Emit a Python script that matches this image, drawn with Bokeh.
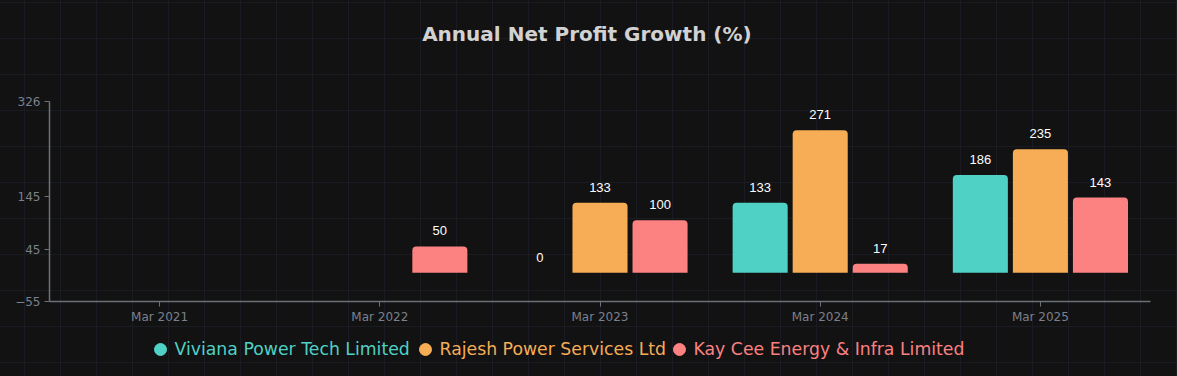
from bokeh.plotting import figure
from bokeh.layouts import column
from bokeh.models import (ColumnDataSource, FactorRange, Range1d, FixedTicker, LabelSet,
                          Label, Legend, LegendItem)
from bokeh.core.properties import value
from bokeh.transform import dodge
from bokeh.embed import file_html
from bokeh.resources import INLINE

periods = ["Mar 2021", "Mar 2022", "Mar 2023", "Mar 2024", "Mar 2025"]
viviana = [None, None, 0, 133, 186]
rajesh = [None, None, 133, 271, 235]
kaycee = [None, 50, 100, 17, 143]
series_names = ["Viviana Power Tech Limited", "Rajesh Power Services Ltd", "Kay Cee Energy & Infra Limited"]
series_values = [viviana, rajesh, kaycee]
colors = ["#4FD1C5", "#F6AD55", "#FC8181"]
y_ticks = [-55, 45, 145, 326]
title_text = "Annual Net Profit Growth (%)"

W = 1177
H_TOP, H_MAIN, H_LEG = 70, 260, 46


def blank_fig(h):
    f = figure(width=W, height=h, x_range=Range1d(0, W), y_range=Range1d(0, h),
               output_backend="svg", toolbar_location=None,
               x_axis_location=None, y_axis_location=None, min_border=0)
    f.background_fill_alpha = 0
    f.border_fill_alpha = 0
    f.outline_line_color = None
    f.xgrid.visible = False
    f.ygrid.visible = False
    return f


# title
pt = blank_fig(H_TOP)
pt.add_layout(Label(x=W / 2 - 14, y=H_TOP - 33, text=title_text, text_align="center",
                    text_baseline="middle", text_color="#D2D2D2", text_font="DejaVu Sans",
                    text_font_style="bold", text_font_size="20px"))

# main chart
p = figure(width=W, height=H_MAIN, x_range=FactorRange(factors=periods, range_padding=0),
           y_range=Range1d(-55, 326), output_backend="svg", toolbar_location=None,
           min_border_left=49, min_border_right=27, min_border_top=31, min_border_bottom=29)
p.x_range.factor_padding = 0
p.background_fill_alpha = 0
p.border_fill_alpha = 0
p.outline_line_color = None
p.xgrid.visible = False
p.ygrid.visible = False

axis_color = "#6E7079"
tick_color = "#7c808c"
for ax in (p.xaxis[0], p.yaxis[0]):
    ax.axis_line_color = axis_color
    ax.major_tick_line_color = axis_color
    ax.minor_tick_line_color = None
    ax.major_tick_in = 0
    ax.major_tick_out = 5
    ax.major_label_text_color = tick_color
    ax.major_label_text_font = "DejaVu Sans"
    ax.major_label_text_font_size = "12px"
    ax.axis_line_width = 1.5
p.xaxis.major_label_standoff = 3
p.yaxis.major_label_standoff = 4
p.yaxis.ticker = FixedTicker(ticks=y_ticks)

offsets = [-0.2727, 0.0, 0.2727]
pl = blank_fig(H_LEG)
leg_x = [95.5, 360.5, 614.5]
for name, vals, col, off, lx in zip(series_names, series_values, colors, offsets, leg_x):
    xs = [per for per, v in zip(periods, vals) if v is not None]
    ys = [v for v in vals if v is not None]
    src = ColumnDataSource(dict(x=xs, top=ys, lbl=[str(v) for v in ys]))
    p.vbar(x=dodge("x", off, range=p.x_range), top="top", bottom=0, width=0.25, source=src,
           fill_color=col, line_color=None, border_radius=(4, 4, 0, 0))
    p.add_layout(LabelSet(x=dodge("x", off, range=p.x_range), y="top", text="lbl", source=src,
                          text_align="center", text_baseline="bottom", y_offset=11,
                          text_color="#ffffff", text_font=value("Liberation Sans"),
                          text_font_size="13px"))
    # legend swatch renderer (kept outside the visible range)
    dummy = pl.scatter(x=[-500], y=[-500], marker="circle", fill_color=col, line_color=col)
    lg = Legend(items=[LegendItem(label=name, renderers=[dummy])], location=(lx, 12),
                orientation="horizontal", glyph_width=30, glyph_height=30, label_standoff=0,
                padding=0, margin=0, spacing=0, border_line_color=None, background_fill_alpha=0,
                label_text_color=col, label_text_font="DejaVu Sans", label_text_font_size="17.3px",
                label_text_baseline="middle")
    pl.add_layout(lg, "center")

layout = column(pt, p, pl, spacing=0)
layout.styles = {
    "background-color": "#121212",
    "background-image": "linear-gradient(to right, #1b1b23 1px, transparent 1px), linear-gradient(to bottom, #1b1b23 1px, transparent 1px)",
    "background-size": "36px 36px",
    "background-position": "24px 2px",
}

open("out.html", "w").write(file_html(layout, INLINE))
